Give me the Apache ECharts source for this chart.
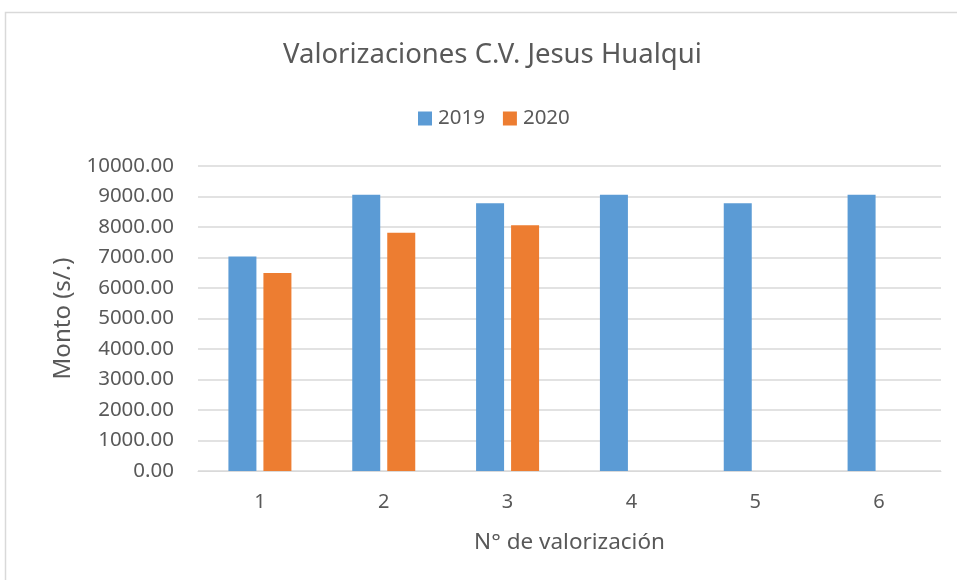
<!DOCTYPE html>
<html>
<head>
<meta charset="utf-8">
<script src="https://cdn.jsdelivr.net/npm/echarts@6/dist/echarts.min.js"></script>
<style>
  html, body { margin: 0; padding: 0; background: #fff; }
  #chart { width: 957px; height: 580px; }
</style>
</head>
<body>
<div id="chart"></div>
<script>
// values
const categories = ['1', '2', '3', '4', '5', '6'];
const values2019 = [7030, 9060, 8780, 9060, 8780, 9060];
const values2020 = [6490, 7810, 8055, null, null, null];
const yTicks = { min: 0, max: 10000, interval: 1000 };

const textColor = '#595959';
const font = 'Noto Sans';

const chart = echarts.init(document.getElementById('chart'));
chart.setOption({
  animation: false,
  color: ['#5B9BD5', '#ED7D31'],
  textStyle: { fontFamily: font, color: textColor },
  graphic: [{
    type: 'rect',
    shape: { x: 5.5, y: 12.5, width: 1000, height: 1000 },
    style: { fill: 'none', stroke: '#d9d9d9', lineWidth: 1.5 },
    silent: true,
  }],
  title: {
    text: 'Valorizaciones C.V. Jesus Hualqui',
    left: 278,
    top: 36,
    textStyle: { fontFamily: font, fontSize: 27.5, fontWeight: 'normal', color: textColor },
  },
  legend: {
    data: ['2019', '2020'],
    top: 103,
    left: 413,
    itemWidth: 14,
    itemHeight: 14,
    itemGap: 18,
    icon: 'rect',
    textStyle: { fontFamily: font, fontSize: 20.5, color: textColor, padding: [0, 0, 0, 1] },
  },
  grid: {
    left: 198,
    right: 16,
    top: 166,
    bottom: 109,
    containLabel: false,
  },
  xAxis: {
    type: 'category',
    data: categories,
    name: 'N° de valorización',
    nameLocation: 'middle',
    nameGap: 60,
    nameTextStyle: { fontFamily: font, fontSize: 22.5, color: textColor },
    axisLine: { lineStyle: { color: '#d9d9d9', width: 1 } },
    axisTick: { show: false },
    axisLabel: { fontFamily: font, fontSize: 20, color: textColor, margin: 21 },
  },
  yAxis: {
    type: 'value',
    min: yTicks.min,
    max: yTicks.max,
    interval: yTicks.interval,
    name: 'Monto (s/.)',
    nameLocation: 'middle',
    nameGap: 122,
    nameTextStyle: { fontFamily: font, fontSize: 24, color: textColor },
    axisLine: { show: false },
    axisTick: { show: false },
    splitLine: { lineStyle: { color: '#d9d9d9', width: 1.5 } },
    axisLabel: {
      fontFamily: font,
      fontSize: 20.5,
      color: textColor,
      margin: 24,
      formatter: (v) => v.toFixed(2),
    },
  },
  series: [
    {
      name: '2019',
      type: 'bar',
      data: values2019,
      barWidth: 28,
      barGap: '25%',
    },
    {
      name: '2020',
      type: 'bar',
      data: values2020,
      barWidth: 28,
      barGap: '25%',
    },
  ],
});
</script>
</body>
</html>
